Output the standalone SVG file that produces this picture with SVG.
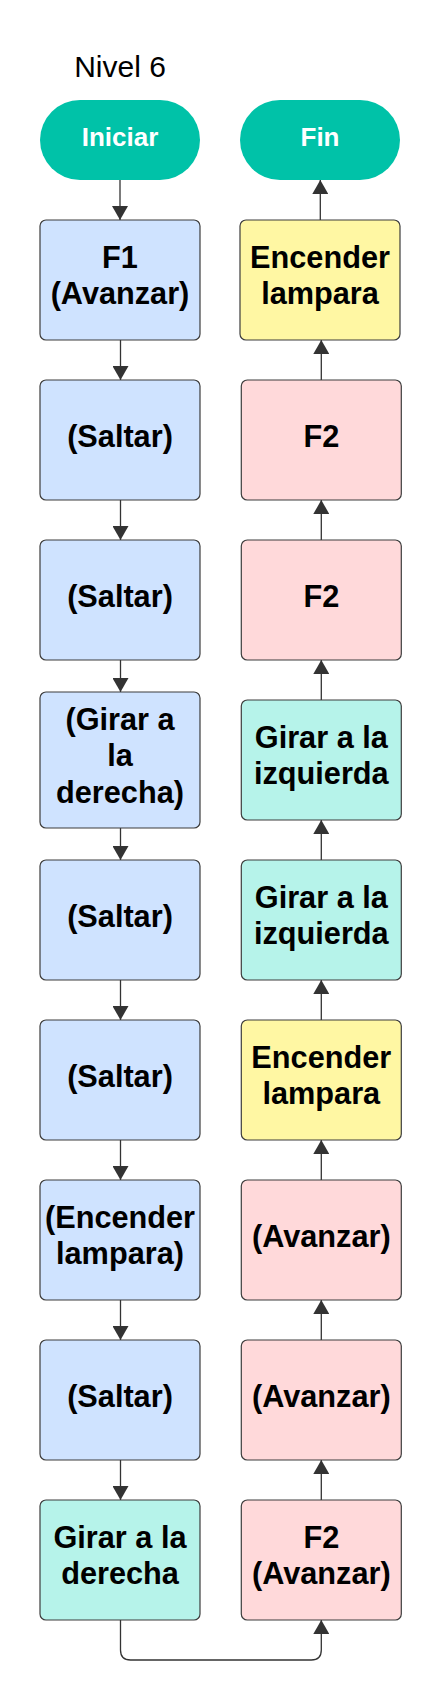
<svg xmlns="http://www.w3.org/2000/svg" width="441" height="1700" viewBox="0 0 441 1700">
<style>
.t{font-family:"Liberation Sans",Arial,sans-serif;font-weight:bold;font-size:30.7px;fill:#000;text-anchor:middle}
.title{font-family:"Liberation Sans",Arial,sans-serif;font-size:30px;fill:#000;text-anchor:middle}
.pt{font-family:"Liberation Sans",Arial,sans-serif;font-weight:bold;font-size:26px;fill:#fff;text-anchor:middle}
.pill{fill:#00C2A8}
.box{stroke:#3d3d3d;stroke-width:1.2}
.blue{fill:#CFE3FF}
.pink{fill:#FFD9DA}
.yellow{fill:#FFF7A3}
.teal{fill:#B6F3EA}
.c{fill:none;stroke:#333;stroke-width:1.3}
</style>
<defs>
<marker id="ah" markerUnits="userSpaceOnUse" markerWidth="16" markerHeight="16" viewBox="0 0 14 16" refX="14" refY="8" orient="auto">
<path d="M0,0 L14,8 L0,16 Z" fill="#333"/>
</marker>
</defs>
<rect width="441" height="1700" fill="#fff"/>
<text class="title" x="120" y="77">Nivel 6</text>

<g id="connectors">
<path class="c" d="M120,180 V220" marker-end="url(#ah)"/>
<path class="c" d="M120.5,340 V380" marker-end="url(#ah)"/>
<path class="c" d="M120.5,500 V540" marker-end="url(#ah)"/>
<path class="c" d="M120.5,660 V692" marker-end="url(#ah)"/>
<path class="c" d="M120.5,828 V860" marker-end="url(#ah)"/>
<path class="c" d="M120.5,980 V1020" marker-end="url(#ah)"/>
<path class="c" d="M120.5,1140 V1180" marker-end="url(#ah)"/>
<path class="c" d="M120.5,1300 V1340" marker-end="url(#ah)"/>
<path class="c" d="M120.5,1460 V1500" marker-end="url(#ah)"/>
<path class="c" d="M120.5,1620 V1650 Q120.5,1660 130.5,1660 H311.3 Q321.3,1660 321.3,1650 V1620" marker-end="url(#ah)"/>
<path class="c" d="M321.3,1500 V1460" marker-end="url(#ah)"/>
<path class="c" d="M321.3,1340 V1300" marker-end="url(#ah)"/>
<path class="c" d="M321.3,1180 V1140" marker-end="url(#ah)"/>
<path class="c" d="M321.3,1020 V980" marker-end="url(#ah)"/>
<path class="c" d="M321.3,860 V820" marker-end="url(#ah)"/>
<path class="c" d="M321.3,700 V660" marker-end="url(#ah)"/>
<path class="c" d="M321.3,540 V500" marker-end="url(#ah)"/>
<path class="c" d="M321.3,380 V340" marker-end="url(#ah)"/>
<path class="c" d="M320.3,220 V180" marker-end="url(#ah)"/>
</g>

<g id="iniciar"><rect class="pill" x="40" y="100" width="160" height="80" rx="40"/><text class="pt" x="120" y="145.5">Iniciar</text></g>
<g id="fin"><rect class="pill" x="240" y="100" width="160" height="80" rx="40"/><text class="pt" x="320" y="145.5">Fin</text></g>

<g id="l1"><rect class="box blue" x="40" y="220" width="160" height="120" rx="6"/><text class="t" x="120" y="267.5">F1</text><text class="t" x="120" y="304">(Avanzar)</text></g>
<g id="l2"><rect class="box blue" x="40" y="380" width="160" height="120" rx="6"/><text class="t" x="120" y="446.5">(Saltar)</text></g>
<g id="l3"><rect class="box blue" x="40" y="540" width="160" height="120" rx="6"/><text class="t" x="120" y="606.5">(Saltar)</text></g>
<g id="l4"><rect class="box blue" x="40" y="692" width="160" height="136" rx="6"/><text class="t" x="120" y="729.5">(Girar a</text><text class="t" x="120" y="766">la</text><text class="t" x="120" y="803">derecha)</text></g>
<g id="l5"><rect class="box blue" x="40" y="860" width="160" height="120" rx="6"/><text class="t" x="120" y="926.5">(Saltar)</text></g>
<g id="l6"><rect class="box blue" x="40" y="1020" width="160" height="120" rx="6"/><text class="t" x="120" y="1086.5">(Saltar)</text></g>
<g id="l7"><rect class="box blue" x="40" y="1180" width="160" height="120" rx="6"/><text class="t" x="120" y="1227.5">(Encender</text><text class="t" x="120" y="1264">lampara)</text></g>
<g id="l8"><rect class="box blue" x="40" y="1340" width="160" height="120" rx="6"/><text class="t" x="120" y="1406.5">(Saltar)</text></g>
<g id="l9"><rect class="box teal" x="40" y="1500" width="160" height="120" rx="6"/><text class="t" x="120" y="1547.5">Girar a la</text><text class="t" x="120" y="1584">derecha</text></g>

<g id="r1"><rect class="box yellow" x="240" y="220" width="160" height="120" rx="6"/><text class="t" x="320" y="267.5">Encender</text><text class="t" x="320" y="304">lampara</text></g>
<g id="r2"><rect class="box pink" x="241.3" y="380" width="160" height="120" rx="6"/><text class="t" x="321.3" y="446.5">F2</text></g>
<g id="r3"><rect class="box pink" x="241.3" y="540" width="160" height="120" rx="6"/><text class="t" x="321.3" y="606.5">F2</text></g>
<g id="r4"><rect class="box teal" x="241.3" y="700" width="160" height="120" rx="6"/><text class="t" x="321.3" y="747.5">Girar a la</text><text class="t" x="321.3" y="784">izquierda</text></g>
<g id="r5"><rect class="box teal" x="241.3" y="860" width="160" height="120" rx="6"/><text class="t" x="321.3" y="907.5">Girar a la</text><text class="t" x="321.3" y="944">izquierda</text></g>
<g id="r6"><rect class="box yellow" x="241.3" y="1020" width="160" height="120" rx="6"/><text class="t" x="321.3" y="1067.5">Encender</text><text class="t" x="321.3" y="1104">lampara</text></g>
<g id="r7"><rect class="box pink" x="241.3" y="1180" width="160" height="120" rx="6"/><text class="t" x="321.3" y="1246.5">(Avanzar)</text></g>
<g id="r8"><rect class="box pink" x="241.3" y="1340" width="160" height="120" rx="6"/><text class="t" x="321.3" y="1406.5">(Avanzar)</text></g>
<g id="r9"><rect class="box pink" x="241.3" y="1500" width="160" height="120" rx="6"/><text class="t" x="321.3" y="1547.5">F2</text><text class="t" x="321.3" y="1584">(Avanzar)</text></g>
</svg>
